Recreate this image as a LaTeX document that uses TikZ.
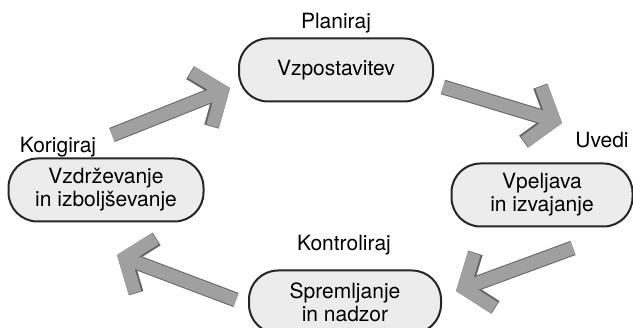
\documentclass[tikz,border=0pt]{standalone}
\usepackage{fontspec}
\setmainfont{TeX Gyre Heros}
\usetikzlibrary{arrows.meta}

\definecolor{boxfill}{RGB}{236,236,236}
\definecolor{arrowfill}{RGB}{160,160,160}
\definecolor{arrowedge}{RGB}{100,100,100}

\begin{document}
\begin{tikzpicture}[x=1pt, y=-1pt, every node/.style={font=\fontsize{21}{23}\selectfont},
	phase/.style={draw=black!85, line width=2pt, fill=boxfill, rounded corners=29pt, minimum height=63pt, inner sep=0pt, align=center},
	bigarrow/.style={line width=15pt, draw=arrowedge, -{Straight Barb[length=22pt, width=58pt, line join=miter]}},
	bigarrow inner/.style={line width=13pt, draw=arrowfill, -{Straight Barb[length=22pt, width=58pt, line join=miter]}}]
	\useasboundingbox (0,0) rectangle (633,328);
	\clip (0,0) rectangle (633,328);
	
	% faze
	\node[phase, minimum width=194pt] (vzpost) at (336,70) {Vzpostavitev};
	\node[phase, minimum width=181pt] (vpelj) at (542,195) {Vpeljava\\in izvajanje};
	\node[phase, minimum width=192pt] (sprem) at (345,302) {Spremljanje\\in nadzor};
	\node[phase, minimum width=195pt] (vzdrz) at (106,190) {Vzdrževanje\\in izboljševanje};
	
	% oznake
	\node (planiraj) at (336,23) {Planiraj};
	\node (uvedi) at (602,140) {Uvedi};
	\node (kontrol) at (344,245) {Kontroliraj};
	\node (korig) at (58,147) {Korigiraj};
	
	% puščice
	\coordinate (k-s) at (112,135); \coordinate (k-e) at (230,88);
	\coordinate (p-s) at (443,87);  \coordinate (p-e) at (562,123);
	\coordinate (u-s) at (573,248); \coordinate (u-e) at (456,291);
	\coordinate (n-s) at (236,300); \coordinate (n-e) at (117,255);
	\foreach \s/\e in {k-s/k-e, p-s/p-e, u-s/u-e, n-s/n-e} {
		\draw[bigarrow] (\s) -- (\e);
		\draw[bigarrow inner] (\s) -- (\e);
	}
\end{tikzpicture}
\end{document}
